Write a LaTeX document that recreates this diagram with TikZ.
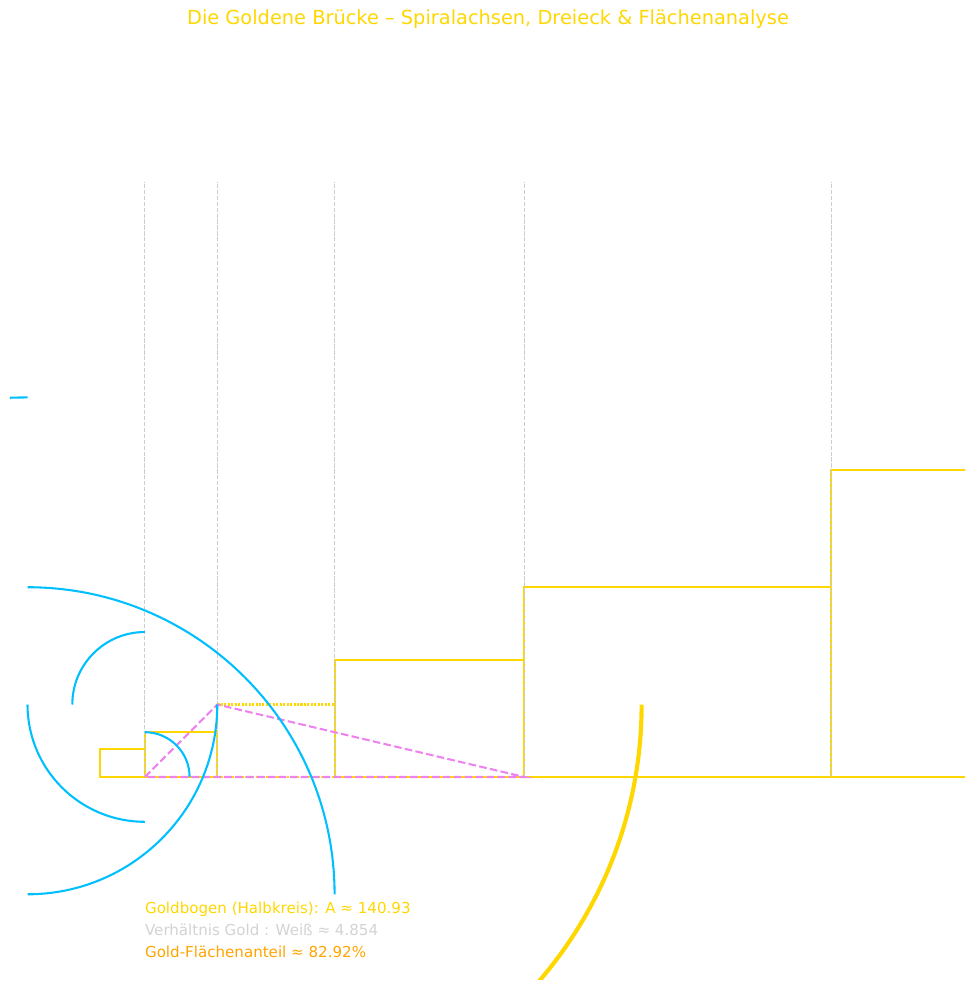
\documentclass[tikz,border=0pt]{standalone}
\usepackage{fontspec}
\setmainfont{DejaVu Sans}
\usepackage{tikz}
\usetikzlibrary{positioning}
\definecolor{ggold}{HTML}{FFD700}
\definecolor{gblue}{HTML}{00BFFF}
\definecolor{gviolet}{HTML}{EE82EE}
\definecolor{glight}{HTML}{D3D3D3}
\definecolor{ggrid}{HTML}{CCCCCC}
\definecolor{gorange}{HTML}{FFA500}

\begin{document}
\begin{tikzpicture}[x=1.1379cm, y=1.1379cm,
    goldrect/.style={ggold, line width=1.5pt},
    spiral/.style={gblue, line width=1.5pt},
    axisline/.style={ggrid, line width=0.8pt, dash pattern=on 3pt off 1.3pt},
    triline/.style={gviolet, line width=1.5pt, dash pattern=on 5.5pt off 2.4pt},
    info/.style={anchor=base west, inner sep=0pt, font=\fontsize{10.9}{13}\selectfont}]
    % Canvas
    \useasboundingbox (-2.2321,-4.7321) rectangle (19.5313,17.3438);

    % Title
    \node[anchor=base, inner sep=0pt, text=ggold, font=\fontsize{14}{17}\selectfont] (title) at (8.661,16.786) {Die Goldene Brücke – Spiralachsen, Dreieck \& Flächenanalyse};

    \begin{scope}
    \clip (-2.009,-4.509) rectangle (19.308,16.4);

    % Golden rectangles
    \foreach \x/\w/\h/\ls in {0/1/0.618/solid, 1/1.618/1/solid, 2.618/2.618/1.618/densely dotted, 5.236/4.236/2.618/solid, 9.472/6.854/4.236/solid, 16.326/11.09/6.854/solid} {
        \draw[goldrect, \ls] (\x,0) rectangle ++(\w,\h);
    }

    % Spiral axes
    \foreach \x in {1, 2.618, 5.236, 9.472, 16.326} {
        \draw[axisline] (\x,0) -- (\x,13.29);
    }

    % Triangle
    \coordinate (A) at (1,0);
    \coordinate (B) at (2.618,1.618);
    \coordinate (C) at (9.472,0);
    \draw[triline] (A) -- (B) -- (C) -- cycle;

    % Spiral arcs
    \foreach \cx/\cy/\r/\a/\b in {1/0/1/90/0, 1/1.618/1.618/90/180, 1/1.618/2.618/180/270, -1.618/1.618/4.236/0/-90, -1.618/-2.618/6.854/90/0, -1.618/-2.618/11.09/90/180} {
        \draw[spiral] (\cx,\cy) ++(\a:\r) arc[start angle=\a, end angle=\b, radius=\r];
    }

    % Gold semicircle
    \draw[ggold, line width=3pt] (B) ++(9.472,0) arc[start angle=0, end angle=-180, radius=9.472];
    \end{scope}

    % Analysis
    \node[info, text=ggold] (goldarea) at (1,-3.036) {Goldbogen (Halbkreis): A ≈ 140.93};
    \node[info, text=glight] (ratio) at (1,-3.527) {Verhältnis Gold : Weiß ≈ 4.854};
    \node[info, text=gorange] (share) at (1,-4.018) {Gold-Flächenanteil ≈ 82.92\%};
\end{tikzpicture}
\end{document}
